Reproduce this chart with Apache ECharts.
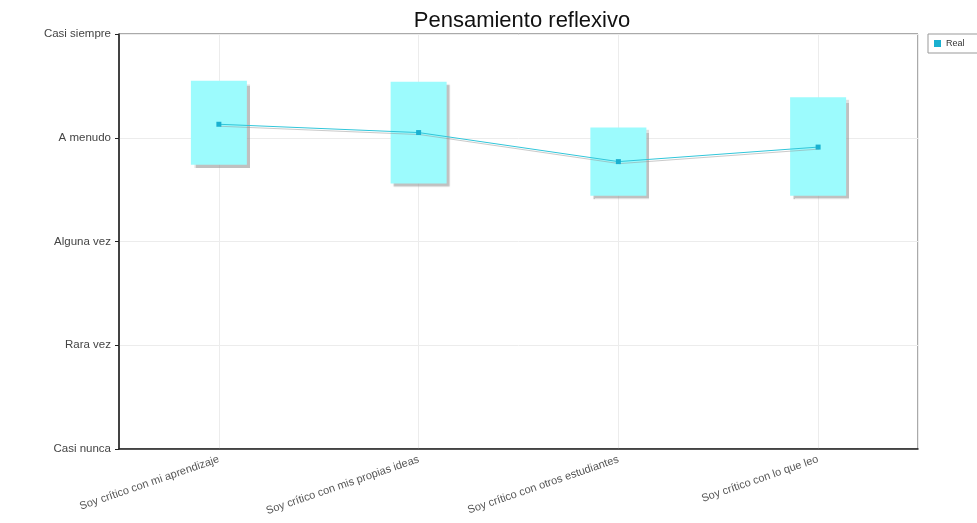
<!DOCTYPE html>
<html><head><meta charset="utf-8">
<script src="https://cdn.jsdelivr.net/npm/echarts@6/dist/echarts.min.js"></script>
<style>html,body{margin:0;padding:0;background:#fff}#c{width:977px;height:523px}</style>
</head><body><div id="c"></div>
<script>
const categories = ['Soy crítico con mi aprendizaje','Soy crítico con mis propias ideas','Soy crítico con otros estudiantes','Soy crítico con lo que leo'];
const yLabels = ['Casi nunca','Rara vez','Alguna vez','A menudo','Casi siempre'];
const realValues = [4.13, 4.05, 3.77, 3.91];
const boxLow = [3.74, 3.56, 3.44, 3.44];
const boxHigh = [4.55, 4.54, 4.10, 4.39];

const boxSpan = boxHigh.map((h, i) => +(h - boxLow[i]).toFixed(2));
const halfBands = categories.flatMap(() => ['', '']);
const chart = echarts.init(document.getElementById('c'));
chart.setOption({
  animation: false,
  title: { text: 'Pensamiento reflexivo', left: 517, top: 5, textAlign: 'center',
    textStyle: { fontFamily: 'Liberation Sans', fontSize: 22, fontWeight: 'normal', color: '#111' } },
  legend: { data: ['Real'], left: 928, top: 34, icon: 'rect', itemWidth: 7, itemHeight: 7, itemGap: 4,
    padding: [5, 20, 5, 6], borderColor: '#999', borderWidth: 1, backgroundColor: '#fff',
    textStyle: { fontFamily: 'Liberation Sans', fontSize: 9, color: '#333' } },
  grid: { left: 119, right: 59, top: 34, bottom: 74, show: true, borderColor: '#555', borderWidth: 1, containLabel: false },
  xAxis: [
    { type: 'category', data: categories, boundaryGap: true,
      axisLine: { lineStyle: { color: '#222', width: 1.5 } },
      axisTick: { alignWithLabel: true, length: 4, lineStyle: { color: '#222' } },
      splitLine: { show: false },
      axisLabel: { rotate: 19, fontFamily: 'Liberation Sans', fontSize: 11, color: '#555', margin: 10, interval: 0 } },
    { type: 'category', data: halfBands, boundaryGap: true, position: 'bottom',
      axisLine: { show: false }, axisTick: { show: false }, axisLabel: { show: false },
      splitLine: { show: true, interval: (i) => i % 2 === 1, lineStyle: { color: '#ececec' } } }
  ],
  yAxis: { type: 'value', min: 1, max: 5, interval: 1,
    axisLine: { show: true, lineStyle: { color: '#222', width: 1.5 } },
    axisTick: { show: true, inside: false, length: 4, lineStyle: { color: '#222' } },
    splitLine: { show: true, lineStyle: { color: '#ececec' } },
    axisLabel: { fontFamily: 'Liberation Sans', fontSize: 11.5, color: '#444', margin: 8,
      formatter: v => yLabels[Math.round(v) - 1] } },
  series: [
    { name: 'base', type: 'bar', stack: 'box', data: boxLow, barWidth: 56, silent: true,
      itemStyle: { color: 'rgba(0,0,0,0)' } },
    { name: 'box', type: 'bar', stack: 'box', data: boxSpan, barWidth: 56, silent: true,
      itemStyle: { color: '#9cfbfd', shadowColor: 'rgba(150,150,150,0.6)', shadowOffsetX: 3, shadowOffsetY: 3, shadowBlur: 1 } },
    { name: 'Real', type: 'line', data: realValues, symbol: 'rect', symbolSize: 5, z: 5,
      itemStyle: { color: '#1ab0d0' },
      lineStyle: { color: '#30c6da', width: 1, shadowColor: 'rgba(150,150,150,0.5)', shadowOffsetY: 2, shadowOffsetX: 1, shadowBlur: 0 } }
  ]
});
</script></body></html>
